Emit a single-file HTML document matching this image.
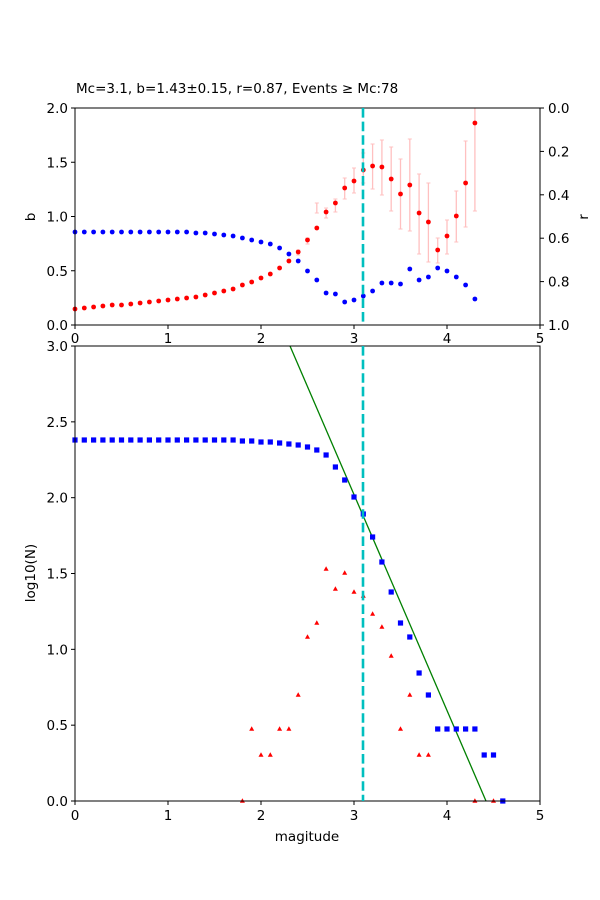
<!DOCTYPE html>
<html><head><meta charset="utf-8"><style>
body{margin:0;background:#fff}
svg{display:block;font-family:"DejaVu Sans","Liberation Sans",sans-serif}
</style></head><body>
<svg id="s" width="600" height="900" viewBox="0 0 600 900" xmlns="http://www.w3.org/2000/svg">
<rect width="600" height="900" fill="#fff"/>
<text x="76" y="93" font-size="13.5">Mc=3.1, b=1.43±0.15, r=0.87, Events ≥ Mc:78</text>
<g id="g"></g>
</svg>
<script>
const g=document.getElementById('g');let h='';
const X=m=>75+m*93;
const FS=13.5;
const eb=[[2.4,250,255],[2.5,238,244],[2.6,203,213],[2.7,208,218],[2.8,199,212],[2.9,178,199],[3.0,168,193],[3.1,153,183],[3.2,144,189],[3.3,140,195],[3.4,147,211],[3.5,159,229],[3.6,139,231],[3.7,174,254],[3.8,183,262],[3.9,238,263],[4.0,220,254],[4.1,191,242],[4.2,141,227],[4.3,108,211]];
eb.forEach(e=>{const x=X(e[0]);h+=`<line x1="${x}" y1="${e[1]}" x2="${x}" y2="${e[2]}" stroke="#ffc0c0" stroke-width="1.3"/><line x1="${x-2}" y1="${e[1]}" x2="${x+2}" y2="${e[1]}" stroke="#ffc0c0"/><line x1="${x-2}" y1="${e[2]}" x2="${x+2}" y2="${e[2]}" stroke="#ffc0c0"/>`;});
const red=[309,308,307,306,305,305,304,303,302,301,300,299,298,297,295,293,291,289,285,282,278,274,268,261,252,240,228,212,203,188,181,170,166,167,179,194,185,213,222,250,236,216,183,123];
red.forEach((y,i)=>h+=`<circle cx="${X(i/10)}" cy="${y}" r="2.4" fill="#f00"/>`);
const blue=[232,232,232,232,232,232,232,232,232,232,232,232,232,233,233,234,235,236,238,240,242,244,248,254,261,271,280,293,294,302,300,296,291,283,283,284,269,280,277,268,271,277,285,299];
blue.forEach((y,i)=>h+=`<circle cx="${X(i/10)}" cy="${y}" r="2.4" fill="#00f"/>`);
h+=`<rect x="75" y="108" width="465" height="217" fill="none" stroke="#000" stroke-width="1"/>`;
for(let i=0;i<=5;i++){const x=X(i);h+=`<line x1="${x}" y1="325" x2="${x}" y2="329" stroke="#000"/><text x="${x}" y="343" font-size="${FS}" text-anchor="middle">${i}</text>`;}
['0.0','0.5','1.0','1.5','2.0'].forEach((t,i)=>{const y=325-i*54.25;h+=`<line x1="71" y1="${y}" x2="75" y2="${y}" stroke="#000"/><text x="68" y="${y+5}" font-size="${FS}" text-anchor="end">${t}</text>`;});
['0.0','0.2','0.4','0.6','0.8','1.0'].forEach((t,i)=>{const y=108+i*43.4;h+=`<line x1="540" y1="${y}" x2="544" y2="${y}" stroke="#000"/><text x="548" y="${y+5}" font-size="${FS}">${t}</text>`;});
h+=`<text x="35" y="217" font-size="${FS}" text-anchor="middle" transform="rotate(-90 35 217)">b</text>`;
h+=`<text x="588" y="217" font-size="${FS}" text-anchor="middle" transform="rotate(-90 588 217)">r</text>`;
h+=`<line x1="290" y1="346" x2="486" y2="801" stroke="#008000" stroke-width="1.3"/>`;
const bs=[440,440,440,440,440,440,440,440,440,440,440,440,440,440,440,440,440,440,441,441,442,442,443,444,445,447,450,455,467,480,497,514,537,562,592,623,637,673,695,729,729,729,729,729,755,755,801];
bs.forEach((y,i)=>h+=`<rect x="${X(i/10)-2.6}" y="${y-2.6}" width="5.2" height="5.2" fill="#00f"/>`);
const tr=[[1.8,801],[1.9,729],[2.0,755],[2.1,755],[2.2,729],[2.3,729],[2.4,695],[2.5,637],[2.6,623],[2.7,569],[2.8,589],[2.9,573],[3.0,592],[3.1,596],[3.2,614],[3.3,627],[3.4,656],[3.5,729],[3.6,695],[3.7,755],[3.8,755],[4.3,801],[4.5,801]];
tr.forEach(t=>{const x=X(t[0]),y=t[1];h+=`<polygon points="${x},${y-2.8} ${x-2.5},${y+1.8} ${x+2.5},${y+1.8}" fill="#f00"/>`;});
h+=`<rect x="75" y="346" width="465" height="455" fill="none" stroke="#000" stroke-width="1"/>`;
for(let i=0;i<=5;i++){const x=X(i);h+=`<line x1="${x}" y1="801" x2="${x}" y2="805" stroke="#000"/><text x="${x}" y="820" font-size="${FS}" text-anchor="middle">${i}</text>`;}
['0.0','0.5','1.0','1.5','2.0','2.5','3.0'].forEach((t,i)=>{const y=801-i*75.83;h+=`<line x1="71" y1="${y}" x2="75" y2="${y}" stroke="#000"/><text x="68" y="${y+5}" font-size="${FS}" text-anchor="end">${t}</text>`;});
h+=`<text x="307" y="841" font-size="${FS}" text-anchor="middle">magitude</text>`;
h+=`<text x="35" y="573" font-size="${FS}" text-anchor="middle" transform="rotate(-90 35 573)">log10(N)</text>`;
h+=`<line x1="363" y1="108" x2="363" y2="325" stroke="#00bfbf" stroke-width="2.6" stroke-dasharray="9.6,4"/>`;
h+=`<line x1="363" y1="346" x2="363" y2="801" stroke="#00bfbf" stroke-width="2.6" stroke-dasharray="9.6,4"/>`;
g.innerHTML=h;
</script>
</body></html>
